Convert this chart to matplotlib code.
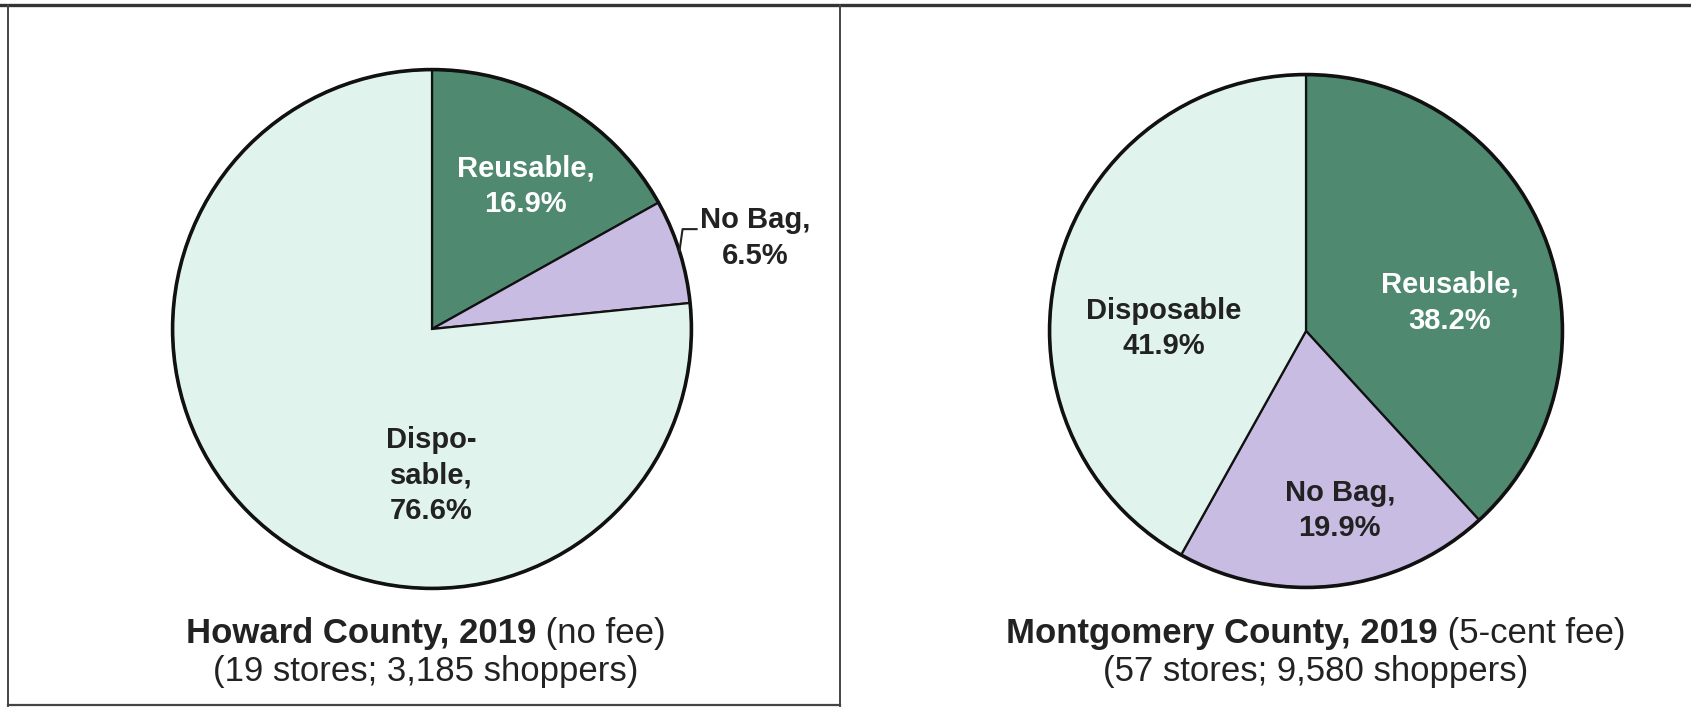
import matplotlib
matplotlib.use("Agg")
import matplotlib.pyplot as plt
from matplotlib.lines import Line2D
import numpy as np

plt.rcParams['font.family'] = ['Liberation Sans', 'DejaVu Sans']

categories = ["Reusable", "No Bag", "Disposable"]
howard_values = [16.9, 6.5, 76.6]
montgomery_values = [38.2, 19.9, 41.9]
howard_labels = ["Reusable,\n16.9%", "No Bag,\n6.5%", "Dispo-\nsable,\n76.6%"]
montgomery_labels = ["Reusable,\n38.2%", "No Bag,\n19.9%", "Disposable\n41.9%"]
titles_bold = ["Howard County, 2019", "Montgomery County, 2019"]
titles_normal = [" (no fee)", " (5-cent fee)"]
subtitles = ["(19 stores; 3,185 shoppers)", "(57 stores; 9,580 shoppers)"]

colors = ["#4e8970", "#c9bce3", "#e0f4ed"]
label_colors = ["white", "#222222", "#222222"]

LABEL_FS = 21
CAPTION_FS = 25
LS = 1.35

W, H = 1691, 707
fig = plt.figure(figsize=(W / 100, H / 100), dpi=100)


def px_axes(cx, cy, r):
    return fig.add_axes([(cx - r) / W, (H - cy - r) / H, 2 * r / W, 2 * r / H])


def draw_pie(ax, values, labels, label_pos):
    wedges, _ = ax.pie(values, startangle=90, counterclock=False, colors=colors,
                       radius=1.0,
                       wedgeprops=dict(edgecolor="#111111", linewidth=1.6))
    ax.add_patch(plt.Circle((0, 0), 1.0, fill=False, edgecolor="#111111",
                            linewidth=2.6, zorder=5))
    ax.set_xlim(-1.01, 1.01)
    ax.set_ylim(-1.01, 1.01)
    ax.set_aspect("equal")
    ax.axis("off")
    for lab, pos, c in zip(labels, label_pos, label_colors):
        if pos is None:
            continue
        ax.text(pos[0], pos[1], lab, ha="center", va="center", color=c,
                fontsize=LABEL_FS, fontweight="bold", linespacing=LS,
                clip_on=False, zorder=6)
    return wedges


# Howard County
ax1 = px_axes(432, 329, 262)
w1 = draw_pie(ax1, howard_values, howard_labels,
              [(0.36, 0.55), None, (-0.004, -0.565)])
# leader label for No Bag
wn = w1[1]
mid = np.deg2rad((wn.theta1 + wn.theta2) / 2)
p0 = (np.cos(mid), np.sin(mid))
p1 = (p0[0] + 0.012, 0.385)
p2 = (1.02, 0.385)
ax1.plot([p0[0], p1[0], p2[0]], [p0[1], p1[1], p2[1]], color="#222222",
         lw=1.5, clip_on=False, zorder=6)
ax1.text(1.245, 0.35, howard_labels[1], ha="center", va="center",
         color="#222222", fontsize=LABEL_FS, fontweight="bold", linespacing=LS,
         clip_on=False, zorder=6)

# Montgomery County
ax2 = px_axes(1306, 331, 259)
draw_pie(ax2, montgomery_values, montgomery_labels,
         [(0.56, 0.11), (0.132, -0.70), (-0.555, 0.01)])

# Captions
renderer = fig.canvas.get_renderer()
for cx, tb, tn, sub in zip([426, 1316], titles_bold, titles_normal, subtitles):
    y1 = 1 - 633 / H
    y2 = 1 - 672 / H
    t1 = fig.text(0, y1, tb, fontsize=CAPTION_FS, fontweight="bold",
                  color="#222222", ha="left", va="center")
    t2 = fig.text(0, y1, tn, fontsize=CAPTION_FS, color="#222222", ha="left",
                  va="center")
    w_b = t1.get_window_extent(renderer).width
    w_n = t2.get_window_extent(renderer).width
    x0 = cx - (w_b + w_n) / 2
    t1.set_x(x0 / W)
    t2.set_x((x0 + w_b) / W)
    fig.text(cx / W, y2, sub, fontsize=CAPTION_FS, color="#222222",
             ha="center", va="center")

# Frame lines
fig.add_artist(Line2D([0, 1], [1 - 5 / H, 1 - 5 / H], color="#333333", lw=2.4))
fig.add_artist(Line2D([8 / W, 8 / W], [1 - 5 / H, 1 - 706 / H], color="#444444", lw=1.4))
fig.add_artist(Line2D([840 / W, 840 / W], [1 - 5 / H, 1 - 706 / H], color="#444444", lw=1.4))
fig.add_artist(Line2D([8 / W, 840 / W], [1 - 705 / H, 1 - 705 / H], color="#444444", lw=1.6))

fig.savefig("out.png", dpi=100, facecolor="white")
